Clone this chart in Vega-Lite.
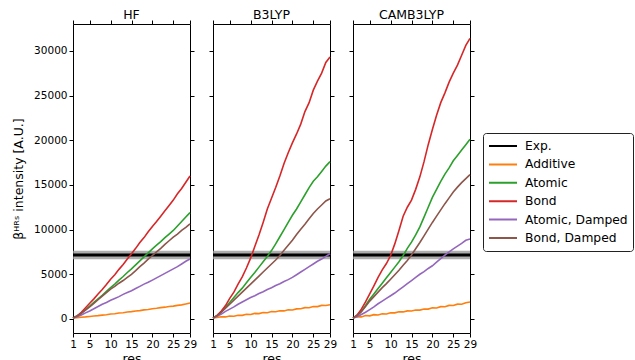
{
"$schema": "https://vega.github.io/schema/vega-lite/v6.json",
"padding": {"left": 12, "top": 8, "right": 0, "bottom": 0},
"config": {
  "font": "DejaVu Sans",
  "view": {"stroke": "#000", "strokeWidth": 1},
  "axis": {"domain": false, "grid": false, "tickColor": "#000", "tickSize": 4, "labelFontSize": 10.5, "labelColor": "#000", "labelPadding": 2, "labelOverlap": false, "labelFlush": false, "titleFontWeight": "normal", "titleColor": "#000", "titleFontSize": 12.5},
  "title": {"fontSize": 12.5, "fontWeight": "normal", "color": "#000", "offset": -2},
  "legend": {"orient": "none", "legendX": 410, "legendY": 109, "symbolType": "stroke", "symbolSize": 784, "symbolStrokeWidth": 2, "labelFontSize": 12.3, "labelColor": "#000", "strokeColor": "#222", "fillColor": "#fff", "padding": 5, "cornerRadius": 3, "labelOffset": 7, "clipHeight": 16, "rowPadding": 2.4}
},
"datasets": {
  "exp": [{"s": "Exp.", "v": 7150, "lo": 6680, "hi": 7620}],
  "res": [
{"m":"HF","s":"Additive","r":1,"v":100},{"m":"HF","s":"Additive","r":2,"v":150},{"m":"HF","s":"Additive","r":3,"v":200},{"m":"HF","s":"Additive","r":4,"v":230},{"m":"HF","s":"Additive","r":5,"v":280},{"m":"HF","s":"Additive","r":6,"v":330},{"m":"HF","s":"Additive","r":7,"v":370},{"m":"HF","s":"Additive","r":8,"v":430},{"m":"HF","s":"Additive","r":9,"v":480},{"m":"HF","s":"Additive","r":10,"v":550},{"m":"HF","s":"Additive","r":11,"v":580},{"m":"HF","s":"Additive","r":12,"v":660},{"m":"HF","s":"Additive","r":13,"v":700},{"m":"HF","s":"Additive","r":14,"v":780},{"m":"HF","s":"Additive","r":15,"v":820},{"m":"HF","s":"Additive","r":16,"v":900},{"m":"HF","s":"Additive","r":17,"v":930},{"m":"HF","s":"Additive","r":18,"v":1020},{"m":"HF","s":"Additive","r":19,"v":1060},{"m":"HF","s":"Additive","r":20,"v":1150},{"m":"HF","s":"Additive","r":21,"v":1200},{"m":"HF","s":"Additive","r":22,"v":1270},{"m":"HF","s":"Additive","r":23,"v":1320},{"m":"HF","s":"Additive","r":24,"v":1400},{"m":"HF","s":"Additive","r":25,"v":1440},{"m":"HF","s":"Additive","r":26,"v":1520},{"m":"HF","s":"Additive","r":27,"v":1580},{"m":"HF","s":"Additive","r":28,"v":1680},{"m":"HF","s":"Additive","r":29,"v":1780},
{"m":"HF","s":"Atomic","r":1,"v":100},{"m":"HF","s":"Atomic","r":2,"v":350},{"m":"HF","s":"Atomic","r":3,"v":650},{"m":"HF","s":"Atomic","r":4,"v":1050},{"m":"HF","s":"Atomic","r":5,"v":1450},{"m":"HF","s":"Atomic","r":6,"v":1850},{"m":"HF","s":"Atomic","r":7,"v":2250},{"m":"HF","s":"Atomic","r":8,"v":2650},{"m":"HF","s":"Atomic","r":9,"v":3100},{"m":"HF","s":"Atomic","r":10,"v":3500},{"m":"HF","s":"Atomic","r":11,"v":3900},{"m":"HF","s":"Atomic","r":12,"v":4350},{"m":"HF","s":"Atomic","r":13,"v":4750},{"m":"HF","s":"Atomic","r":14,"v":5200},{"m":"HF","s":"Atomic","r":15,"v":5600},{"m":"HF","s":"Atomic","r":16,"v":6050},{"m":"HF","s":"Atomic","r":17,"v":6500},{"m":"HF","s":"Atomic","r":18,"v":6950},{"m":"HF","s":"Atomic","r":19,"v":7400},{"m":"HF","s":"Atomic","r":20,"v":7850},{"m":"HF","s":"Atomic","r":21,"v":8250},{"m":"HF","s":"Atomic","r":22,"v":8650},{"m":"HF","s":"Atomic","r":23,"v":9100},{"m":"HF","s":"Atomic","r":24,"v":9500},{"m":"HF","s":"Atomic","r":25,"v":9900},{"m":"HF","s":"Atomic","r":26,"v":10400},{"m":"HF","s":"Atomic","r":27,"v":10900},{"m":"HF","s":"Atomic","r":28,"v":11400},{"m":"HF","s":"Atomic","r":29,"v":11900},
{"m":"HF","s":"Bond","r":1,"v":100},{"m":"HF","s":"Bond","r":2,"v":350},{"m":"HF","s":"Bond","r":3,"v":750},{"m":"HF","s":"Bond","r":4,"v":1250},{"m":"HF","s":"Bond","r":5,"v":1750},{"m":"HF","s":"Bond","r":6,"v":2250},{"m":"HF","s":"Bond","r":7,"v":2800},{"m":"HF","s":"Bond","r":8,"v":3300},{"m":"HF","s":"Bond","r":9,"v":3850},{"m":"HF","s":"Bond","r":10,"v":4450},{"m":"HF","s":"Bond","r":11,"v":4950},{"m":"HF","s":"Bond","r":12,"v":5550},{"m":"HF","s":"Bond","r":13,"v":6100},{"m":"HF","s":"Bond","r":14,"v":6700},{"m":"HF","s":"Bond","r":15,"v":7300},{"m":"HF","s":"Bond","r":16,"v":7900},{"m":"HF","s":"Bond","r":17,"v":8550},{"m":"HF","s":"Bond","r":18,"v":9100},{"m":"HF","s":"Bond","r":19,"v":9750},{"m":"HF","s":"Bond","r":20,"v":10350},{"m":"HF","s":"Bond","r":21,"v":10900},{"m":"HF","s":"Bond","r":22,"v":11500},{"m":"HF","s":"Bond","r":23,"v":12100},{"m":"HF","s":"Bond","r":24,"v":12700},{"m":"HF","s":"Bond","r":25,"v":13300},{"m":"HF","s":"Bond","r":26,"v":14000},{"m":"HF","s":"Bond","r":27,"v":14600},{"m":"HF","s":"Bond","r":28,"v":15300},{"m":"HF","s":"Bond","r":29,"v":16000},
{"m":"HF","s":"Atomic, Damped","r":1,"v":100},{"m":"HF","s":"Atomic, Damped","r":2,"v":250},{"m":"HF","s":"Atomic, Damped","r":3,"v":450},{"m":"HF","s":"Atomic, Damped","r":4,"v":680},{"m":"HF","s":"Atomic, Damped","r":5,"v":900},{"m":"HF","s":"Atomic, Damped","r":6,"v":1150},{"m":"HF","s":"Atomic, Damped","r":7,"v":1400},{"m":"HF","s":"Atomic, Damped","r":8,"v":1650},{"m":"HF","s":"Atomic, Damped","r":9,"v":1850},{"m":"HF","s":"Atomic, Damped","r":10,"v":2100},{"m":"HF","s":"Atomic, Damped","r":11,"v":2300},{"m":"HF","s":"Atomic, Damped","r":12,"v":2500},{"m":"HF","s":"Atomic, Damped","r":13,"v":2750},{"m":"HF","s":"Atomic, Damped","r":14,"v":2950},{"m":"HF","s":"Atomic, Damped","r":15,"v":3150},{"m":"HF","s":"Atomic, Damped","r":16,"v":3400},{"m":"HF","s":"Atomic, Damped","r":17,"v":3650},{"m":"HF","s":"Atomic, Damped","r":18,"v":3900},{"m":"HF","s":"Atomic, Damped","r":19,"v":4100},{"m":"HF","s":"Atomic, Damped","r":20,"v":4350},{"m":"HF","s":"Atomic, Damped","r":21,"v":4600},{"m":"HF","s":"Atomic, Damped","r":22,"v":4850},{"m":"HF","s":"Atomic, Damped","r":23,"v":5100},{"m":"HF","s":"Atomic, Damped","r":24,"v":5350},{"m":"HF","s":"Atomic, Damped","r":25,"v":5600},{"m":"HF","s":"Atomic, Damped","r":26,"v":5850},{"m":"HF","s":"Atomic, Damped","r":27,"v":6150},{"m":"HF","s":"Atomic, Damped","r":28,"v":6450},{"m":"HF","s":"Atomic, Damped","r":29,"v":6700},
{"m":"HF","s":"Bond, Damped","r":1,"v":100},{"m":"HF","s":"Bond, Damped","r":2,"v":330},{"m":"HF","s":"Bond, Damped","r":3,"v":620},{"m":"HF","s":"Bond, Damped","r":4,"v":980},{"m":"HF","s":"Bond, Damped","r":5,"v":1350},{"m":"HF","s":"Bond, Damped","r":6,"v":1750},{"m":"HF","s":"Bond, Damped","r":7,"v":2150},{"m":"HF","s":"Bond, Damped","r":8,"v":2550},{"m":"HF","s":"Bond, Damped","r":9,"v":2950},{"m":"HF","s":"Bond, Damped","r":10,"v":3350},{"m":"HF","s":"Bond, Damped","r":11,"v":3650},{"m":"HF","s":"Bond, Damped","r":12,"v":4000},{"m":"HF","s":"Bond, Damped","r":13,"v":4300},{"m":"HF","s":"Bond, Damped","r":14,"v":4650},{"m":"HF","s":"Bond, Damped","r":15,"v":5000},{"m":"HF","s":"Bond, Damped","r":16,"v":5400},{"m":"HF","s":"Bond, Damped","r":17,"v":5850},{"m":"HF","s":"Bond, Damped","r":18,"v":6250},{"m":"HF","s":"Bond, Damped","r":19,"v":6700},{"m":"HF","s":"Bond, Damped","r":20,"v":7100},{"m":"HF","s":"Bond, Damped","r":21,"v":7500},{"m":"HF","s":"Bond, Damped","r":22,"v":7900},{"m":"HF","s":"Bond, Damped","r":23,"v":8350},{"m":"HF","s":"Bond, Damped","r":24,"v":8750},{"m":"HF","s":"Bond, Damped","r":25,"v":9150},{"m":"HF","s":"Bond, Damped","r":26,"v":9500},{"m":"HF","s":"Bond, Damped","r":27,"v":9900},{"m":"HF","s":"Bond, Damped","r":28,"v":10250},{"m":"HF","s":"Bond, Damped","r":29,"v":10650},
{"m":"B3LYP","s":"Additive","r":1,"v":100},{"m":"B3LYP","s":"Additive","r":2,"v":180},{"m":"B3LYP","s":"Additive","r":3,"v":250},{"m":"B3LYP","s":"Additive","r":4,"v":230},{"m":"B3LYP","s":"Additive","r":5,"v":330},{"m":"B3LYP","s":"Additive","r":6,"v":310},{"m":"B3LYP","s":"Additive","r":7,"v":420},{"m":"B3LYP","s":"Additive","r":8,"v":400},{"m":"B3LYP","s":"Additive","r":9,"v":520},{"m":"B3LYP","s":"Additive","r":10,"v":500},{"m":"B3LYP","s":"Additive","r":11,"v":620},{"m":"B3LYP","s":"Additive","r":12,"v":600},{"m":"B3LYP","s":"Additive","r":13,"v":720},{"m":"B3LYP","s":"Additive","r":14,"v":700},{"m":"B3LYP","s":"Additive","r":15,"v":830},{"m":"B3LYP","s":"Additive","r":16,"v":800},{"m":"B3LYP","s":"Additive","r":17,"v":920},{"m":"B3LYP","s":"Additive","r":18,"v":900},{"m":"B3LYP","s":"Additive","r":19,"v":1030},{"m":"B3LYP","s":"Additive","r":20,"v":1000},{"m":"B3LYP","s":"Additive","r":21,"v":1130},{"m":"B3LYP","s":"Additive","r":22,"v":1150},{"m":"B3LYP","s":"Additive","r":23,"v":1270},{"m":"B3LYP","s":"Additive","r":24,"v":1250},{"m":"B3LYP","s":"Additive","r":25,"v":1400},{"m":"B3LYP","s":"Additive","r":26,"v":1380},{"m":"B3LYP","s":"Additive","r":27,"v":1520},{"m":"B3LYP","s":"Additive","r":28,"v":1500},{"m":"B3LYP","s":"Additive","r":29,"v":1600},
{"m":"B3LYP","s":"Atomic","r":1,"v":100},{"m":"B3LYP","s":"Atomic","r":2,"v":400},{"m":"B3LYP","s":"Atomic","r":3,"v":800},{"m":"B3LYP","s":"Atomic","r":4,"v":1300},{"m":"B3LYP","s":"Atomic","r":5,"v":1850},{"m":"B3LYP","s":"Atomic","r":6,"v":2400},{"m":"B3LYP","s":"Atomic","r":7,"v":2950},{"m":"B3LYP","s":"Atomic","r":8,"v":3450},{"m":"B3LYP","s":"Atomic","r":9,"v":4050},{"m":"B3LYP","s":"Atomic","r":10,"v":4650},{"m":"B3LYP","s":"Atomic","r":11,"v":5200},{"m":"B3LYP","s":"Atomic","r":12,"v":5800},{"m":"B3LYP","s":"Atomic","r":13,"v":6400},{"m":"B3LYP","s":"Atomic","r":14,"v":7000},{"m":"B3LYP","s":"Atomic","r":15,"v":7650},{"m":"B3LYP","s":"Atomic","r":16,"v":8400},{"m":"B3LYP","s":"Atomic","r":17,"v":9200},{"m":"B3LYP","s":"Atomic","r":18,"v":10000},{"m":"B3LYP","s":"Atomic","r":19,"v":10800},{"m":"B3LYP","s":"Atomic","r":20,"v":11600},{"m":"B3LYP","s":"Atomic","r":21,"v":12300},{"m":"B3LYP","s":"Atomic","r":22,"v":13100},{"m":"B3LYP","s":"Atomic","r":23,"v":13900},{"m":"B3LYP","s":"Atomic","r":24,"v":14700},{"m":"B3LYP","s":"Atomic","r":25,"v":15400},{"m":"B3LYP","s":"Atomic","r":26,"v":15900},{"m":"B3LYP","s":"Atomic","r":27,"v":16500},{"m":"B3LYP","s":"Atomic","r":28,"v":17100},{"m":"B3LYP","s":"Atomic","r":29,"v":17600},
{"m":"B3LYP","s":"Bond","r":1,"v":100},{"m":"B3LYP","s":"Bond","r":2,"v":400},{"m":"B3LYP","s":"Bond","r":3,"v":900},{"m":"B3LYP","s":"Bond","r":4,"v":1500},{"m":"B3LYP","s":"Bond","r":5,"v":2300},{"m":"B3LYP","s":"Bond","r":6,"v":3000},{"m":"B3LYP","s":"Bond","r":7,"v":3900},{"m":"B3LYP","s":"Bond","r":8,"v":4700},{"m":"B3LYP","s":"Bond","r":9,"v":5700},{"m":"B3LYP","s":"Bond","r":10,"v":6800},{"m":"B3LYP","s":"Bond","r":11,"v":8100},{"m":"B3LYP","s":"Bond","r":12,"v":9400},{"m":"B3LYP","s":"Bond","r":13,"v":10800},{"m":"B3LYP","s":"Bond","r":14,"v":12300},{"m":"B3LYP","s":"Bond","r":15,"v":13500},{"m":"B3LYP","s":"Bond","r":16,"v":14700},{"m":"B3LYP","s":"Bond","r":17,"v":16000},{"m":"B3LYP","s":"Bond","r":18,"v":17400},{"m":"B3LYP","s":"Bond","r":19,"v":18600},{"m":"B3LYP","s":"Bond","r":20,"v":19700},{"m":"B3LYP","s":"Bond","r":21,"v":20700},{"m":"B3LYP","s":"Bond","r":22,"v":21800},{"m":"B3LYP","s":"Bond","r":23,"v":23200},{"m":"B3LYP","s":"Bond","r":24,"v":24200},{"m":"B3LYP","s":"Bond","r":25,"v":25600},{"m":"B3LYP","s":"Bond","r":26,"v":26600},{"m":"B3LYP","s":"Bond","r":27,"v":27500},{"m":"B3LYP","s":"Bond","r":28,"v":28700},{"m":"B3LYP","s":"Bond","r":29,"v":29300},
{"m":"B3LYP","s":"Atomic, Damped","r":1,"v":100},{"m":"B3LYP","s":"Atomic, Damped","r":2,"v":300},{"m":"B3LYP","s":"Atomic, Damped","r":3,"v":550},{"m":"B3LYP","s":"Atomic, Damped","r":4,"v":850},{"m":"B3LYP","s":"Atomic, Damped","r":5,"v":1100},{"m":"B3LYP","s":"Atomic, Damped","r":6,"v":1350},{"m":"B3LYP","s":"Atomic, Damped","r":7,"v":1650},{"m":"B3LYP","s":"Atomic, Damped","r":8,"v":1900},{"m":"B3LYP","s":"Atomic, Damped","r":9,"v":2150},{"m":"B3LYP","s":"Atomic, Damped","r":10,"v":2400},{"m":"B3LYP","s":"Atomic, Damped","r":11,"v":2600},{"m":"B3LYP","s":"Atomic, Damped","r":12,"v":2850},{"m":"B3LYP","s":"Atomic, Damped","r":13,"v":3050},{"m":"B3LYP","s":"Atomic, Damped","r":14,"v":3300},{"m":"B3LYP","s":"Atomic, Damped","r":15,"v":3500},{"m":"B3LYP","s":"Atomic, Damped","r":16,"v":3750},{"m":"B3LYP","s":"Atomic, Damped","r":17,"v":3950},{"m":"B3LYP","s":"Atomic, Damped","r":18,"v":4200},{"m":"B3LYP","s":"Atomic, Damped","r":19,"v":4400},{"m":"B3LYP","s":"Atomic, Damped","r":20,"v":4650},{"m":"B3LYP","s":"Atomic, Damped","r":21,"v":4950},{"m":"B3LYP","s":"Atomic, Damped","r":22,"v":5250},{"m":"B3LYP","s":"Atomic, Damped","r":23,"v":5550},{"m":"B3LYP","s":"Atomic, Damped","r":24,"v":5850},{"m":"B3LYP","s":"Atomic, Damped","r":25,"v":6150},{"m":"B3LYP","s":"Atomic, Damped","r":26,"v":6450},{"m":"B3LYP","s":"Atomic, Damped","r":27,"v":6700},{"m":"B3LYP","s":"Atomic, Damped","r":28,"v":7000},{"m":"B3LYP","s":"Atomic, Damped","r":29,"v":7300},
{"m":"B3LYP","s":"Bond, Damped","r":1,"v":100},{"m":"B3LYP","s":"Bond, Damped","r":2,"v":380},{"m":"B3LYP","s":"Bond, Damped","r":3,"v":750},{"m":"B3LYP","s":"Bond, Damped","r":4,"v":1200},{"m":"B3LYP","s":"Bond, Damped","r":5,"v":1650},{"m":"B3LYP","s":"Bond, Damped","r":6,"v":2100},{"m":"B3LYP","s":"Bond, Damped","r":7,"v":2550},{"m":"B3LYP","s":"Bond, Damped","r":8,"v":3000},{"m":"B3LYP","s":"Bond, Damped","r":9,"v":3450},{"m":"B3LYP","s":"Bond, Damped","r":10,"v":3900},{"m":"B3LYP","s":"Bond, Damped","r":11,"v":4350},{"m":"B3LYP","s":"Bond, Damped","r":12,"v":4800},{"m":"B3LYP","s":"Bond, Damped","r":13,"v":5250},{"m":"B3LYP","s":"Bond, Damped","r":14,"v":5700},{"m":"B3LYP","s":"Bond, Damped","r":15,"v":6150},{"m":"B3LYP","s":"Bond, Damped","r":16,"v":6600},{"m":"B3LYP","s":"Bond, Damped","r":17,"v":7100},{"m":"B3LYP","s":"Bond, Damped","r":18,"v":7700},{"m":"B3LYP","s":"Bond, Damped","r":19,"v":8250},{"m":"B3LYP","s":"Bond, Damped","r":20,"v":8800},{"m":"B3LYP","s":"Bond, Damped","r":21,"v":9450},{"m":"B3LYP","s":"Bond, Damped","r":22,"v":10050},{"m":"B3LYP","s":"Bond, Damped","r":23,"v":10600},{"m":"B3LYP","s":"Bond, Damped","r":24,"v":11200},{"m":"B3LYP","s":"Bond, Damped","r":25,"v":11800},{"m":"B3LYP","s":"Bond, Damped","r":26,"v":12300},{"m":"B3LYP","s":"Bond, Damped","r":27,"v":12750},{"m":"B3LYP","s":"Bond, Damped","r":28,"v":13200},{"m":"B3LYP","s":"Bond, Damped","r":29,"v":13450},
{"m":"CAMB3LYP","s":"Additive","r":1,"v":100},{"m":"CAMB3LYP","s":"Additive","r":2,"v":250},{"m":"CAMB3LYP","s":"Additive","r":3,"v":230},{"m":"CAMB3LYP","s":"Additive","r":4,"v":380},{"m":"CAMB3LYP","s":"Additive","r":5,"v":350},{"m":"CAMB3LYP","s":"Additive","r":6,"v":480},{"m":"CAMB3LYP","s":"Additive","r":7,"v":450},{"m":"CAMB3LYP","s":"Additive","r":8,"v":580},{"m":"CAMB3LYP","s":"Additive","r":9,"v":560},{"m":"CAMB3LYP","s":"Additive","r":10,"v":700},{"m":"CAMB3LYP","s":"Additive","r":11,"v":680},{"m":"CAMB3LYP","s":"Additive","r":12,"v":800},{"m":"CAMB3LYP","s":"Additive","r":13,"v":790},{"m":"CAMB3LYP","s":"Additive","r":14,"v":900},{"m":"CAMB3LYP","s":"Additive","r":15,"v":890},{"m":"CAMB3LYP","s":"Additive","r":16,"v":1010},{"m":"CAMB3LYP","s":"Additive","r":17,"v":990},{"m":"CAMB3LYP","s":"Additive","r":18,"v":1120},{"m":"CAMB3LYP","s":"Additive","r":19,"v":1100},{"m":"CAMB3LYP","s":"Additive","r":20,"v":1250},{"m":"CAMB3LYP","s":"Additive","r":21,"v":1230},{"m":"CAMB3LYP","s":"Additive","r":22,"v":1380},{"m":"CAMB3LYP","s":"Additive","r":23,"v":1360},{"m":"CAMB3LYP","s":"Additive","r":24,"v":1520},{"m":"CAMB3LYP","s":"Additive","r":25,"v":1500},{"m":"CAMB3LYP","s":"Additive","r":26,"v":1660},{"m":"CAMB3LYP","s":"Additive","r":27,"v":1640},{"m":"CAMB3LYP","s":"Additive","r":28,"v":1820},{"m":"CAMB3LYP","s":"Additive","r":29,"v":1900},
{"m":"CAMB3LYP","s":"Atomic","r":1,"v":100},{"m":"CAMB3LYP","s":"Atomic","r":2,"v":400},{"m":"CAMB3LYP","s":"Atomic","r":3,"v":850},{"m":"CAMB3LYP","s":"Atomic","r":4,"v":1500},{"m":"CAMB3LYP","s":"Atomic","r":5,"v":2200},{"m":"CAMB3LYP","s":"Atomic","r":6,"v":2800},{"m":"CAMB3LYP","s":"Atomic","r":7,"v":3400},{"m":"CAMB3LYP","s":"Atomic","r":8,"v":4000},{"m":"CAMB3LYP","s":"Atomic","r":9,"v":4600},{"m":"CAMB3LYP","s":"Atomic","r":10,"v":5200},{"m":"CAMB3LYP","s":"Atomic","r":11,"v":5800},{"m":"CAMB3LYP","s":"Atomic","r":12,"v":6400},{"m":"CAMB3LYP","s":"Atomic","r":13,"v":7100},{"m":"CAMB3LYP","s":"Atomic","r":14,"v":7900},{"m":"CAMB3LYP","s":"Atomic","r":15,"v":8600},{"m":"CAMB3LYP","s":"Atomic","r":16,"v":9400},{"m":"CAMB3LYP","s":"Atomic","r":17,"v":10300},{"m":"CAMB3LYP","s":"Atomic","r":18,"v":11400},{"m":"CAMB3LYP","s":"Atomic","r":19,"v":12500},{"m":"CAMB3LYP","s":"Atomic","r":20,"v":13600},{"m":"CAMB3LYP","s":"Atomic","r":21,"v":14500},{"m":"CAMB3LYP","s":"Atomic","r":22,"v":15400},{"m":"CAMB3LYP","s":"Atomic","r":23,"v":16200},{"m":"CAMB3LYP","s":"Atomic","r":24,"v":16900},{"m":"CAMB3LYP","s":"Atomic","r":25,"v":17700},{"m":"CAMB3LYP","s":"Atomic","r":26,"v":18300},{"m":"CAMB3LYP","s":"Atomic","r":27,"v":18900},{"m":"CAMB3LYP","s":"Atomic","r":28,"v":19500},{"m":"CAMB3LYP","s":"Atomic","r":29,"v":20100},
{"m":"CAMB3LYP","s":"Bond","r":1,"v":100},{"m":"CAMB3LYP","s":"Bond","r":2,"v":450},{"m":"CAMB3LYP","s":"Bond","r":3,"v":1100},{"m":"CAMB3LYP","s":"Bond","r":4,"v":1900},{"m":"CAMB3LYP","s":"Bond","r":5,"v":2800},{"m":"CAMB3LYP","s":"Bond","r":6,"v":3700},{"m":"CAMB3LYP","s":"Bond","r":7,"v":4650},{"m":"CAMB3LYP","s":"Bond","r":8,"v":5500},{"m":"CAMB3LYP","s":"Bond","r":9,"v":6200},{"m":"CAMB3LYP","s":"Bond","r":10,"v":7100},{"m":"CAMB3LYP","s":"Bond","r":11,"v":8400},{"m":"CAMB3LYP","s":"Bond","r":12,"v":9900},{"m":"CAMB3LYP","s":"Bond","r":13,"v":11500},{"m":"CAMB3LYP","s":"Bond","r":14,"v":12500},{"m":"CAMB3LYP","s":"Bond","r":15,"v":13300},{"m":"CAMB3LYP","s":"Bond","r":16,"v":14500},{"m":"CAMB3LYP","s":"Bond","r":17,"v":15900},{"m":"CAMB3LYP","s":"Bond","r":18,"v":17600},{"m":"CAMB3LYP","s":"Bond","r":19,"v":19500},{"m":"CAMB3LYP","s":"Bond","r":20,"v":21200},{"m":"CAMB3LYP","s":"Bond","r":21,"v":22800},{"m":"CAMB3LYP","s":"Bond","r":22,"v":24200},{"m":"CAMB3LYP","s":"Bond","r":23,"v":25300},{"m":"CAMB3LYP","s":"Bond","r":24,"v":26500},{"m":"CAMB3LYP","s":"Bond","r":25,"v":27500},{"m":"CAMB3LYP","s":"Bond","r":26,"v":28400},{"m":"CAMB3LYP","s":"Bond","r":27,"v":29500},{"m":"CAMB3LYP","s":"Bond","r":28,"v":30600},{"m":"CAMB3LYP","s":"Bond","r":29,"v":31400},
{"m":"CAMB3LYP","s":"Atomic, Damped","r":1,"v":100},{"m":"CAMB3LYP","s":"Atomic, Damped","r":2,"v":250},{"m":"CAMB3LYP","s":"Atomic, Damped","r":3,"v":500},{"m":"CAMB3LYP","s":"Atomic, Damped","r":4,"v":750},{"m":"CAMB3LYP","s":"Atomic, Damped","r":5,"v":1050},{"m":"CAMB3LYP","s":"Atomic, Damped","r":6,"v":1350},{"m":"CAMB3LYP","s":"Atomic, Damped","r":7,"v":1700},{"m":"CAMB3LYP","s":"Atomic, Damped","r":8,"v":2000},{"m":"CAMB3LYP","s":"Atomic, Damped","r":9,"v":2300},{"m":"CAMB3LYP","s":"Atomic, Damped","r":10,"v":2600},{"m":"CAMB3LYP","s":"Atomic, Damped","r":11,"v":2900},{"m":"CAMB3LYP","s":"Atomic, Damped","r":12,"v":3250},{"m":"CAMB3LYP","s":"Atomic, Damped","r":13,"v":3600},{"m":"CAMB3LYP","s":"Atomic, Damped","r":14,"v":3950},{"m":"CAMB3LYP","s":"Atomic, Damped","r":15,"v":4300},{"m":"CAMB3LYP","s":"Atomic, Damped","r":16,"v":4650},{"m":"CAMB3LYP","s":"Atomic, Damped","r":17,"v":5000},{"m":"CAMB3LYP","s":"Atomic, Damped","r":18,"v":5300},{"m":"CAMB3LYP","s":"Atomic, Damped","r":19,"v":5650},{"m":"CAMB3LYP","s":"Atomic, Damped","r":20,"v":5950},{"m":"CAMB3LYP","s":"Atomic, Damped","r":21,"v":6350},{"m":"CAMB3LYP","s":"Atomic, Damped","r":22,"v":6750},{"m":"CAMB3LYP","s":"Atomic, Damped","r":23,"v":7150},{"m":"CAMB3LYP","s":"Atomic, Damped","r":24,"v":7500},{"m":"CAMB3LYP","s":"Atomic, Damped","r":25,"v":7850},{"m":"CAMB3LYP","s":"Atomic, Damped","r":26,"v":8150},{"m":"CAMB3LYP","s":"Atomic, Damped","r":27,"v":8450},{"m":"CAMB3LYP","s":"Atomic, Damped","r":28,"v":8800},{"m":"CAMB3LYP","s":"Atomic, Damped","r":29,"v":8950},
{"m":"CAMB3LYP","s":"Bond, Damped","r":1,"v":100},{"m":"CAMB3LYP","s":"Bond, Damped","r":2,"v":380},{"m":"CAMB3LYP","s":"Bond, Damped","r":3,"v":800},{"m":"CAMB3LYP","s":"Bond, Damped","r":4,"v":1400},{"m":"CAMB3LYP","s":"Bond, Damped","r":5,"v":2000},{"m":"CAMB3LYP","s":"Bond, Damped","r":6,"v":2500},{"m":"CAMB3LYP","s":"Bond, Damped","r":7,"v":3000},{"m":"CAMB3LYP","s":"Bond, Damped","r":8,"v":3500},{"m":"CAMB3LYP","s":"Bond, Damped","r":9,"v":3950},{"m":"CAMB3LYP","s":"Bond, Damped","r":10,"v":4450},{"m":"CAMB3LYP","s":"Bond, Damped","r":11,"v":4950},{"m":"CAMB3LYP","s":"Bond, Damped","r":12,"v":5450},{"m":"CAMB3LYP","s":"Bond, Damped","r":13,"v":6000},{"m":"CAMB3LYP","s":"Bond, Damped","r":14,"v":6550},{"m":"CAMB3LYP","s":"Bond, Damped","r":15,"v":7150},{"m":"CAMB3LYP","s":"Bond, Damped","r":16,"v":7850},{"m":"CAMB3LYP","s":"Bond, Damped","r":17,"v":8550},{"m":"CAMB3LYP","s":"Bond, Damped","r":18,"v":9300},{"m":"CAMB3LYP","s":"Bond, Damped","r":19,"v":10050},{"m":"CAMB3LYP","s":"Bond, Damped","r":20,"v":10800},{"m":"CAMB3LYP","s":"Bond, Damped","r":21,"v":11500},{"m":"CAMB3LYP","s":"Bond, Damped","r":22,"v":12200},{"m":"CAMB3LYP","s":"Bond, Damped","r":23,"v":12900},{"m":"CAMB3LYP","s":"Bond, Damped","r":24,"v":13550},{"m":"CAMB3LYP","s":"Bond, Damped","r":25,"v":14200},{"m":"CAMB3LYP","s":"Bond, Damped","r":26,"v":14750},{"m":"CAMB3LYP","s":"Bond, Damped","r":27,"v":15250},{"m":"CAMB3LYP","s":"Bond, Damped","r":28,"v":15700},{"m":"CAMB3LYP","s":"Bond, Damped","r":29,"v":16150}
  ]
},
"spacing": 10,
"hconcat": [
 {
  "width": 117, "height": 309,
  "title": {"text": "HF"},
  "resolve": {"axis": {"x": "independent", "y": "independent"}},
  "layer": [
   {"data": {"name": "exp"}, "mark": {"type": "rect", "color": "#999999", "opacity": 0.8},
    "encoding": {"y": {"field": "lo", "type": "quantitative", "scale": {"domain": [-1570, 33000], "nice": false, "zero": false}, "axis": null}, "y2": {"field": "hi"}}},
   {"data": {"name": "exp"}, "mark": {"type": "rule", "strokeWidth": 3},
    "encoding": {"y": {"field": "v", "type": "quantitative", "axis": null},
     "color": {"field": "s", "type": "nominal", "scale": {"domain": ["Exp.", "Additive", "Atomic", "Bond", "Atomic, Damped", "Bond, Damped"], "range": ["#000000", "#ff7f0e", "#2ca02c", "#d62728", "#9467bd", "#8c564b"]}, "legend": {"title": null}}}},
   {"data": {"name": "res"}, "transform": [{"filter": "datum.m === 'HF'"}], "mark": {"type": "line", "strokeWidth": 1.6},
    "encoding": {
     "x": {"field": "r", "type": "quantitative", "scale": {"domain": [1, 29], "nice": false, "zero": false}, "axis": {"values": [1, 5, 10, 15, 20, 25, 29], "title": "res", "titlePadding": 3}},
     "y": {"field": "v", "type": "quantitative", "axis": {"values": [0, 5000, 10000, 15000, 20000, 25000, 30000], "format": "d", "title": "βᴴᴿˢ intensity [A.U.]", "titlePadding": 8}},
     "color": {"field": "s", "type": "nominal", "legend": {"title": null}}}},
   {"data": {"name": "res"}, "transform": [{"filter": "datum.m === 'HF'"}], "mark": {"type": "line", "opacity": 0},
    "encoding": {
     "x": {"field": "r", "type": "quantitative", "axis": {"orient": "top", "values": [1, 5, 10, 15, 20, 25, 29], "labels": false, "title": null}},
     "y": {"field": "v", "type": "quantitative", "axis": {"orient": "right", "values": [0, 5000, 10000, 15000, 20000, 25000, 30000], "labels": false, "title": null}}}}
  ]
 },
 {
  "width": 117, "height": 309,
  "title": {"text": "B3LYP"},
  "resolve": {"axis": {"x": "independent", "y": "independent"}},
  "layer": [
   {"data": {"name": "exp"}, "mark": {"type": "rect", "color": "#999999", "opacity": 0.8},
    "encoding": {"y": {"field": "lo", "type": "quantitative", "scale": {"domain": [-1570, 33000], "nice": false, "zero": false}, "axis": null}, "y2": {"field": "hi"}}},
   {"data": {"name": "exp"}, "mark": {"type": "rule", "strokeWidth": 3},
    "encoding": {"y": {"field": "v", "type": "quantitative", "axis": null},
     "color": {"field": "s", "type": "nominal", "legend": {"title": null}}}},
   {"data": {"name": "res"}, "transform": [{"filter": "datum.m === 'B3LYP'"}], "mark": {"type": "line", "strokeWidth": 1.6},
    "encoding": {
     "x": {"field": "r", "type": "quantitative", "scale": {"domain": [1, 29], "nice": false, "zero": false}, "axis": {"values": [1, 5, 10, 15, 20, 25, 29], "title": "res", "titlePadding": 3}},
     "y": {"field": "v", "type": "quantitative", "axis": {"values": [0, 5000, 10000, 15000, 20000, 25000, 30000], "labels": false, "title": null}},
     "color": {"field": "s", "type": "nominal", "legend": {"title": null}}}},
   {"data": {"name": "res"}, "transform": [{"filter": "datum.m === 'B3LYP'"}], "mark": {"type": "line", "opacity": 0},
    "encoding": {
     "x": {"field": "r", "type": "quantitative", "axis": {"orient": "top", "values": [1, 5, 10, 15, 20, 25, 29], "labels": false, "title": null}},
     "y": {"field": "v", "type": "quantitative", "axis": {"orient": "right", "values": [0, 5000, 10000, 15000, 20000, 25000, 30000], "labels": false, "title": null}}}}
  ]
 },
 {
  "width": 117, "height": 309,
  "title": {"text": "CAMB3LYP"},
  "resolve": {"axis": {"x": "independent", "y": "independent"}},
  "layer": [
   {"data": {"name": "exp"}, "mark": {"type": "rect", "color": "#999999", "opacity": 0.8},
    "encoding": {"y": {"field": "lo", "type": "quantitative", "scale": {"domain": [-1570, 33000], "nice": false, "zero": false}, "axis": null}, "y2": {"field": "hi"}}},
   {"data": {"name": "exp"}, "mark": {"type": "rule", "strokeWidth": 3},
    "encoding": {"y": {"field": "v", "type": "quantitative", "axis": null},
     "color": {"field": "s", "type": "nominal", "legend": {"title": null}}}},
   {"data": {"name": "res"}, "transform": [{"filter": "datum.m === 'CAMB3LYP'"}], "mark": {"type": "line", "strokeWidth": 1.6},
    "encoding": {
     "x": {"field": "r", "type": "quantitative", "scale": {"domain": [1, 29], "nice": false, "zero": false}, "axis": {"values": [1, 5, 10, 15, 20, 25, 29], "title": "res", "titlePadding": 3}},
     "y": {"field": "v", "type": "quantitative", "axis": {"values": [0, 5000, 10000, 15000, 20000, 25000, 30000], "labels": false, "title": null}},
     "color": {"field": "s", "type": "nominal", "legend": {"title": null}}}},
   {"data": {"name": "res"}, "transform": [{"filter": "datum.m === 'CAMB3LYP'"}], "mark": {"type": "line", "opacity": 0},
    "encoding": {
     "x": {"field": "r", "type": "quantitative", "axis": {"orient": "top", "values": [1, 5, 10, 15, 20, 25, 29], "labels": false, "title": null}},
     "y": {"field": "v", "type": "quantitative", "axis": {"orient": "right", "values": [0, 5000, 10000, 15000, 20000, 25000, 30000], "labels": false, "title": null}}}}
  ]
 }
]
}
